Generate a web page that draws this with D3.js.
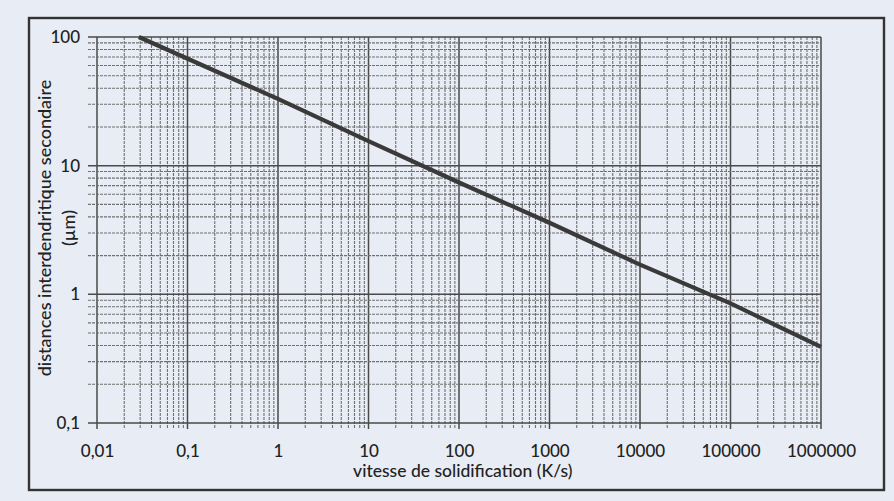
<!DOCTYPE html>
<html>
<head>
<meta charset="utf-8">
<script src="https://cdn.jsdelivr.net/npm/d3@7"></script>
<style>
  html,body{margin:0;padding:0;background:#e8ecf4;}
  svg{display:block;}
</style>
</head>
<body>
<svg id="chart" width="894" height="501"></svg>
<script>
// values (log-log)
const xTicks = [0.01, 0.1, 1, 10, 100, 1000, 10000, 100000, 1000000];
const xTickLabels = ['0,01', '0,1', '1', '10', '100', '1000', '10000', '100000', '1000000'];
const yTicks = [0.1, 1, 10, 100];
const yTickLabels = ['0,1', '1', '10', '100'];
const speed = [0.029, 1, 10, 100, 1000, 10000, 100000, 1000000];
const spacing = [100, 33, 15.5, 7.4, 3.6, 1.7, 0.85, 0.39];

const svg = d3.select('#chart');
const W = 894, H = 501;
const m = {l:97, r:73, t:37, b:78};
const FONT = 'Lato, "Open Sans", sans-serif';

const x = d3.scaleLog().domain([0.01, 1000000]).range([m.l, W - m.r]);
const y = d3.scaleLog().domain([0.1, 100]).range([H - m.b, m.t]);

// outer frame
svg.append('rect').attr('x', 29).attr('y', 18).attr('width', 855).attr('height', 472)
  .attr('fill', 'none').attr('stroke', '#333').attr('stroke-width', 2.4);

// minor/major grid values
function logSteps(lo, hi){
  const out = [];
  for(let d = lo; d < hi; d *= 10) for(let k = 1; k < 10; k++) out.push(+(d*k).toPrecision(3));
  out.push(hi);
  return out;
}
const xGrid = logSteps(0.01, 1000000);
const yGrid = logSteps(0.1, 100);
const isMajor = v => Math.abs(Math.log10(v) - Math.round(Math.log10(v))) < 1e-6;

const g = svg.append('g');
// vertical grid
g.selectAll('.vx').data(xGrid).join('line')
  .attr('x1', d => x(d)).attr('x2', d => x(d))
  .attr('y1', y(100)).attr('y2', d => y(0.1) + 6)
  .attr('stroke', d => isMajor(d) ? '#4a4a4a' : '#6f6f6f')
  .attr('stroke-width', d => isMajor(d) ? 1.5 : 1.1)
  .attr('stroke-dasharray', d => isMajor(d) ? null : '3,1');
// horizontal grid
g.selectAll('.hy').data(yGrid).join('line')
  .attr('y1', d => y(d)).attr('y2', d => y(d))
  .attr('x1', d => x(0.01) - 9).attr('x2', x(1000000))
  .attr('stroke', d => isMajor(d) ? '#4a4a4a' : '#6f6f6f')
  .attr('stroke-width', d => isMajor(d) ? 1.5 : 1.1)
  .attr('stroke-dasharray', d => isMajor(d) ? null : '3,1');

// axes labels via d3 axes
const xAxis = svg.append('g').attr('transform', `translate(0,${y(0.1)})`)
  .call(d3.axisBottom(x).tickValues(xTicks).tickFormat((d,i) => xTickLabels[i]).tickSize(0).tickPadding(22));
const yAxis = svg.append('g').attr('transform', `translate(${x(0.01)},0)`)
  .call(d3.axisLeft(y).tickValues(yTicks).tickFormat((d,i) => yTickLabels[i]).tickSize(0).tickPadding(17));
[xAxis, yAxis].forEach(a => {
  a.select('.domain').remove();
  a.selectAll('text').attr('font-family', FONT)
    .attr('font-size', 17).attr('font-weight', 500).attr('fill', '#222');
});

// the curve
svg.append('path')
  .datum(speed.map((v,i) => [v, spacing[i]]))
  .attr('d', d3.line().x(d => x(d[0])).y(d => y(d[1])))
  .attr('fill', 'none').attr('stroke', '#3a3a3a').attr('stroke-width', 4.2);

// axis titles
svg.append('text').attr('x', x(110)).attr('y', 477).attr('text-anchor', 'middle')
  .attr('font-family', FONT).attr('font-size', 17.5).attr('font-weight', 500)
  .attr('fill', '#222').text('vitesse de solidification (K/s)');
const yt = svg.append('text').attr('transform', 'translate(51,228) rotate(-90)')
  .attr('text-anchor', 'middle').attr('font-family', FONT)
  .attr('font-size', 18).attr('font-weight', 500).attr('fill', '#222');
yt.append('tspan').attr('x', 0).attr('dy', 0).text('distances interdendritique secondaire');
yt.append('tspan').attr('x', 0).attr('dy', 24).text('(µm)');
</script>
</body>
</html>
